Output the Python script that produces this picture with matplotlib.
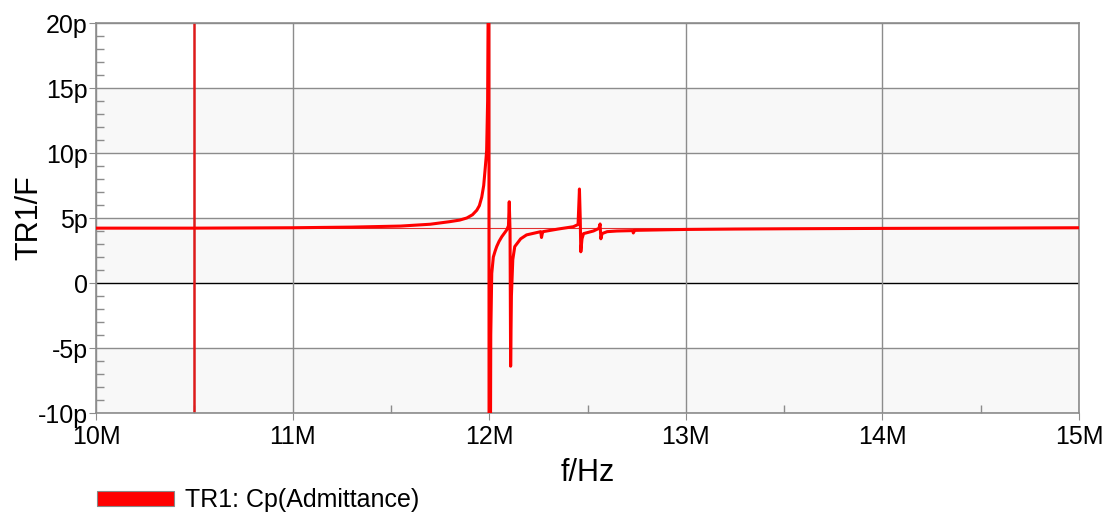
"""Cp(Admittance) sweep of TR1 between 10 MHz and 15 MHz."""

import matplotlib

matplotlib.use("Agg")
import matplotlib.pyplot as plt
from matplotlib.patches import Patch
from matplotlib.ticker import FixedLocator, MultipleLocator

# frequency in MHz, Cp in pF
FREQ_MHZ = [
    10.00, 10.50, 11.00, 11.30, 11.55, 11.70, 11.80, 11.85, 11.886, 11.915,
    11.937, 11.950, 11.962, 11.972, 11.979, 11.984, 11.987, 11.992, 11.996,
    11.998, 12.000, 12.004, 12.008, 12.013, 12.021, 12.030, 12.038, 12.050,
    12.064, 12.089, 12.098, 12.102, 12.106, 12.109, 12.113, 12.120, 12.130,
    12.160, 12.190, 12.262, 12.266, 12.270, 12.274, 12.350, 12.428, 12.452,
    12.459, 12.463, 12.466, 12.472, 12.480, 12.530, 12.558, 12.564, 12.568,
    12.574, 12.600, 12.650, 12.730, 12.733, 12.740, 12.850, 13.000, 13.250,
    13.500, 14.000, 14.500, 15.000,
]
CP_PF = [
    4.22, 4.22, 4.25, 4.30, 4.38, 4.52, 4.72, 4.84, 5.00, 5.25,
    5.60, 5.95, 6.60, 7.50, 8.70, 9.60, 10.2, 14.0, 25.0,
    60.0, -60.0, -25.0, -4.0, 0.74, 2.00, 2.45, 2.80, 3.20,
    3.56, 4.08, 4.40, 6.25, 4.00, -6.40, -1.0, 1.80, 2.80,
    3.40, 3.70, 3.95, 3.50, 3.80, 3.95, 4.15, 4.33, 4.50,
    7.23, 5.00, 2.40, 3.40, 3.80, 4.00, 4.20, 4.54, 3.40,
    3.80, 3.95, 4.00, 4.03, 3.85, 4.05, 4.08, 4.12, 4.15,
    4.17, 4.20, 4.22, 4.25,
]
MARKER_FREQ_MHZ = 10.5
REFERENCE_CP_PF = 4.22
X_TICKS = [10, 11, 12, 13, 14, 15]
X_LABELS = ["10M", "11M", "12M", "13M", "14M", "15M"]
Y_TICKS = [-10, -5, 0, 5, 10, 15, 20]
Y_LABELS = ["-10p", "-5p", "0", "5p", "10p", "15p", "20p"]
LEGEND_LABEL = "TR1: Cp(Admittance)"

RED = "#ff0000"
GRID = "#8c8c8c"
FIGSIZE = (11.07, 5.14)
DPI = 100


def main() -> None:
    plt.rcParams["font.family"] = ["Liberation Sans", "DejaVu Sans"]
    fig = plt.figure(figsize=FIGSIZE, dpi=DPI)
    ax = fig.add_axes([96 / 1107, 1 - 413 / 514, (1079 - 96) / 1107, (413 - 23) / 514])

    ax.set_xlim(10, 15)
    ax.set_ylim(-10, 20)

    # alternating light bands
    for low in (-10, 0, 10):
        ax.axhspan(low, low + 5, color="#f8f8f8", zorder=0, lw=0)

    for y in Y_TICKS:
        ax.axhline(y, color="black" if y == 0 else GRID, lw=1.0, zorder=1)
    for x in X_TICKS:
        ax.axvline(x, color=GRID, lw=1.0, zorder=1)

    ax.axhline(REFERENCE_CP_PF, color="#e03030", lw=0.8, zorder=2)
    ax.axvline(MARKER_FREQ_MHZ, color="#dd1a1a", lw=1.8, zorder=2)
    ax.plot(FREQ_MHZ, CP_PF, color=RED, lw=2.2, zorder=3, solid_joinstyle="round")

    for side in ("left", "right", "top", "bottom"):
        ax.spines[side].set_color(GRID)
        ax.spines[side].set_linewidth(1.2)

    ax.xaxis.set_major_locator(FixedLocator(X_TICKS))
    ax.set_xticklabels(X_LABELS)
    ax.xaxis.set_minor_locator(MultipleLocator(0.5))
    ax.yaxis.set_major_locator(FixedLocator(Y_TICKS))
    ax.set_yticklabels(Y_LABELS)
    ax.yaxis.set_minor_locator(MultipleLocator(1))

    ax.tick_params(axis="both", which="major", direction="out", length=5,
                   color=GRID, labelsize=18, pad=1)
    ax.tick_params(axis="both", which="minor", direction="in", length=6,
                   color=GRID, width=1)
    ax.tick_params(axis="x", which="major", pad=4)

    ax.set_xlabel("f/Hz", fontsize=22, labelpad=6)
    ax.set_ylabel("TR1/F", fontsize=22, labelpad=-5)

    handle = Patch(facecolor=RED, edgecolor="#888888", lw=0.8)
    fig.legend([handle], [LEGEND_LABEL], loc="center left",
               bbox_to_anchor=(74 / 1107, 14 / 514), frameon=False, fontsize=18,
               handlelength=3.1, handleheight=0.55, handletextpad=0.45)

    fig.savefig("out.png", dpi=DPI)
    plt.close(fig)


if __name__ == "__main__":
    main()
